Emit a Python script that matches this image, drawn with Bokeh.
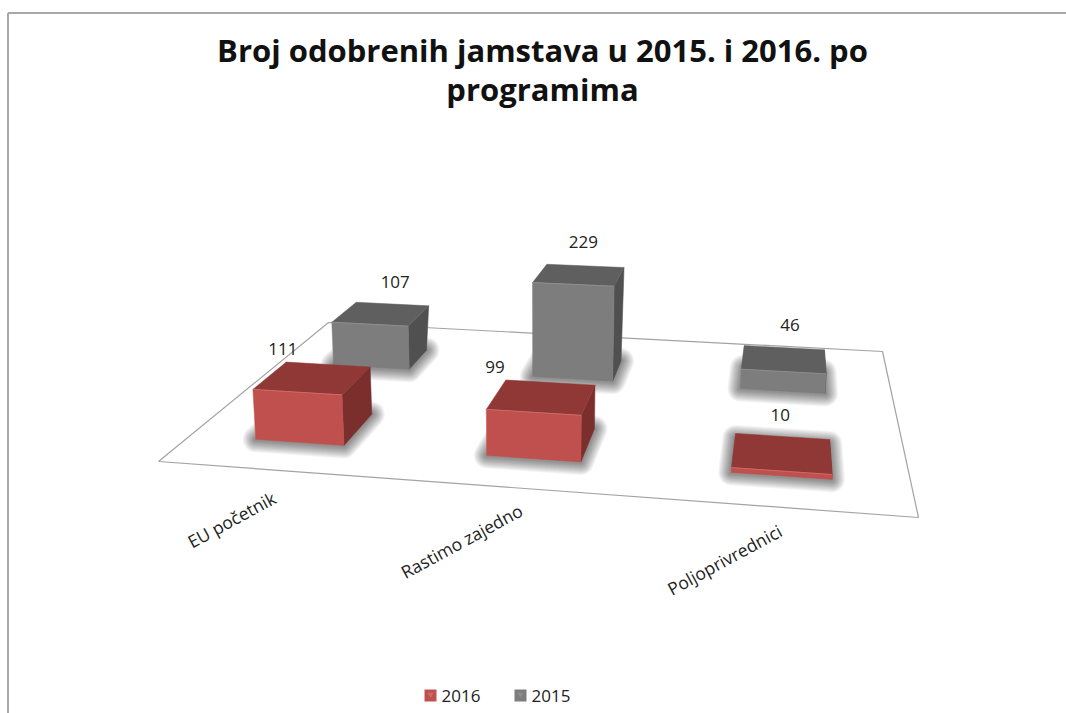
import numpy as np
from bokeh.plotting import figure
from bokeh.models import Range1d
from bokeh.core.properties import value
from bokeh.embed import file_html
from bokeh.resources import INLINE

# ---- data ----
categories = ["EU početnik", "Rastimo zajedno", "Poljoprivrednici"]
series_names = ["2016", "2015"]
values_2016 = [111, 99, 10]
values_2015 = [107, 229, 46]
title_lines = ["Broj odobrenih jamstava u 2015. i 2016. po", "programima"]

# ---- layout and style ----
FONT = value("Open Sans")
TXT = "#222222"
W, H = 1066, 713
FLOOR = [(158, 461), (918, 517), (882, 351), (328, 322)]  # front-left, front-right, back-right, back-left
(x0, y0), (x1, y1), (x2, y2), (x3, y3) = FLOOR
sx, sy = x0 - x1 + x2 - x3, y0 - y1 + y2 - y3
dx1, dy1, dx2, dy2 = x1 - x2, y1 - y2, x3 - x2, y3 - y2
det = dx1 * dy2 - dx2 * dy1
g = (sx * dy2 - dx2 * sy) / det
h = (dx1 * sy - sx * dy1) / det
a, b, c = x1 - x0 + g * x1, x3 - x0 + h * x3, x0
d, e, f = y1 - y0 + g * y1, y3 - y0 + h * y3, y0
FLARE = 0.0002  # verticals lean out with height


def project(u, v, z=0.0, k=0.47):
    w = g * u + h * v + 1
    x = (a * u + b * v + c) / w
    y = (d * u + e * v + f) / w
    ht = z * k / w
    return x + (x - 540) * FLARE * ht, y - ht


p = figure(width=W, height=H, x_range=Range1d(0, W), y_range=Range1d(H, 0),
           output_backend="svg", toolbar_location=None, min_border=0,
           background_fill_color="white", border_fill_color="white")
p.axis.visible = False
p.grid.visible = False
p.outline_line_color = None

# outer frame
p.line([7.5, W], [12.5, 12.5], line_color="#a8a8a8", line_width=2)
p.line([7.5, 7.5], [12.5, H], line_color="#a8a8a8", line_width=2)

# floor
fx = [q[0] for q in FLOOR] + [FLOOR[0][0]]
fy = [q[1] for q in FLOOR] + [FLOOR[0][1]]
p.line(fx, fy, line_color="#a3a3a3", line_width=1.2)

U_CENTRES = [1 / 6, 1 / 2, 5 / 6]
U_NUDGE = {"2016": [-0.003, 0.0, 0.0], "2015": [-0.0075, -0.002, -0.001]}
HW = 0.0655
DEPTH = {"2016": (0.148, 0.334), "2015": (0.65, 0.806)}
TOP_EXTRA = {"2016": 0.0, "2015": 0.03}   # the top face looks deeper than the footprint
HEIGHT_K = {"2016": 0.47, "2015": 0.49}
COLORS = {"2016": dict(front="#C0504D", top="#8F3836", side="#7A2F2D", edge="#CB6A67"),
          "2015": dict(front="#7D7D7D", top="#5F5F5F", side="#505050", edge="#8E8E8E")}
LABEL_OFFSET = {("2016", 0): (-30, -29), ("2015", 0): (14, -32), ("2016", 1): (-47, -30),
                ("2015", 1): (4, -33), ("2015", 2): (6, -35), ("2016", 2): (-2, -39)}
SERIES = {"2016": values_2016, "2015": values_2015}


def poly(pts):
    return [q[0] for q in pts], [q[1] for q in pts]


lab_x, lab_y, lab_t = [], [], []
for name in ["2015", "2016"]:
    v0, v1 = DEPTH[name]
    vt = v1 + TOP_EXTRA[name]
    k = HEIGHT_K[name]
    col = COLORS[name]
    for i, val in enumerate(SERIES[name]):
        uc = U_CENTRES[i] + U_NUDGE[name][i]
        u0, u1 = uc - HW, uc + HW
        # soft shadow: stacked translucent round-joined strokes of the footprint
        xs, ys = poly([project(u0, v0), project(u1, v0), project(u1, v1), project(u0, v1)])
        for lw in range(4, 28, 2):
            p.patch(xs, ys, fill_color="black", fill_alpha=0.0, line_color="black",
                    line_alpha=0.045, line_width=lw, line_join="round")
        fl_b, fr_b = project(u0, v0), project(u1, v0)
        br_b = project(u1, v1)
        fl_t, fr_t = project(u0, v0, val, k), project(u1, v0, val, k)
        bl_t, br_t = project(u0, vt, val, k), project(u1, vt, val, k)
        xs, ys = poly([fr_b, br_b, br_t, fr_t])
        p.patch(xs, ys, fill_color=col["side"], line_color=col["side"], line_width=0.5)
        xs, ys = poly([fl_t, fr_t, br_t, bl_t])
        p.patch(xs, ys, fill_color=col["top"], line_color=col["top"], line_width=0.5)
        xs, ys = poly([fl_b, fr_b, fr_t, fl_t])
        p.patch(xs, ys, fill_color=col["front"], line_color=col["front"], line_width=0.5)
        p.line([fl_t[0], fr_t[0]], [fl_t[1], fr_t[1]], line_color=col["edge"], line_width=1)
        tx = np.mean([fl_t[0], fr_t[0], br_t[0], bl_t[0]])
        ty = np.mean([fl_t[1], fr_t[1], br_t[1], bl_t[1]])
        ox, oy = LABEL_OFFSET[(name, i)]
        lab_x.append(tx + ox)
        lab_y.append(ty + oy)
        lab_t.append(str(val))

p.text(lab_x, lab_y, text=lab_t, text_font=FONT, text_font_size="17px", text_color=TXT,
       text_align="center", text_baseline="middle")

# category labels
p.text([231, 461, 724], [519, 540.5, 559], text=categories, angle=np.radians(28.5),
       text_font=FONT, text_font_size="17.5px", text_color=TXT,
       text_align="center", text_baseline="middle")

# title
p.text([542, 542], [49, 88], text=title_lines, text_font=FONT, text_font_size="31px",
       text_font_style="bold", text_color="#111111", text_align="center", text_baseline="middle")

# legend
for lx, tx, name in zip([430, 520], [441, 531], series_names):
    col = COLORS[name]
    p.scatter([lx], [695], marker="square", size=12, fill_color=col["front"], line_color=None)
    p.scatter([lx], [694], marker="inverted_triangle", size=6, fill_color=col["edge"], line_color=None)
    p.text([tx], [695], text=[name], text_font=FONT, text_font_size="17px", text_color=TXT,
           text_align="left", text_baseline="middle")

open("out.html", "w").write(file_html(p, INLINE))
